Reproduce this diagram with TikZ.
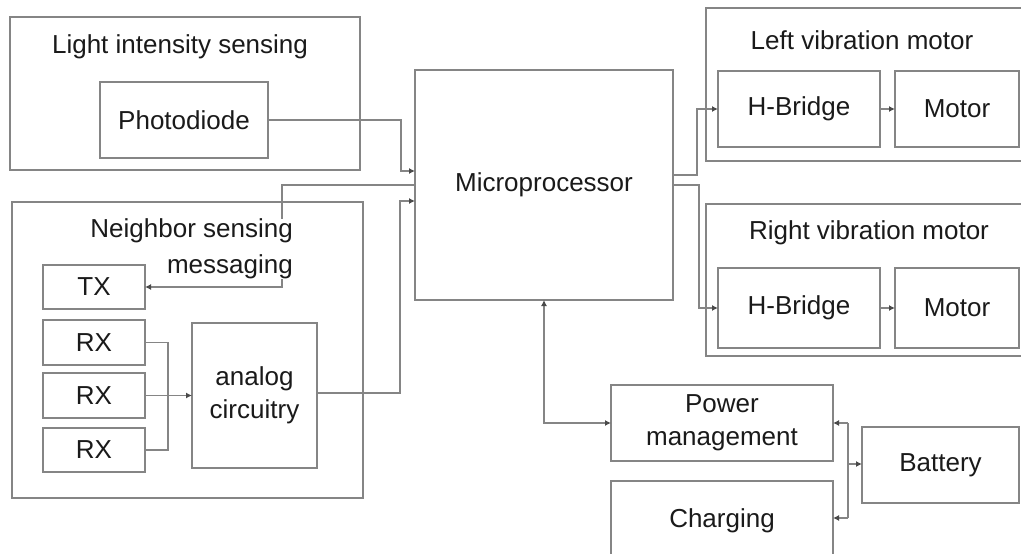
\documentclass[tikz,border=0pt]{standalone}
\usepackage{fontspec}
\setmainfont{Liberation Sans}
\usetikzlibrary{arrows.meta}
\definecolor{edge}{HTML}{858585}
\definecolor{tipc}{HTML}{4A4A4A}
\definecolor{ink}{HTML}{1A1A1A}

% box by corners: name, x1, y1, x2, y2, text
\newcommand\cornerbox[6]{%
  \node[box, minimum width={#4-#2}, minimum height={#5-#3}] (#1)
    at ({(#2+#4)/2},{(#3+#5)/2}) {#6};}

\begin{document}
\begin{tikzpicture}[x=1pt,y=-1pt,
  box/.style={draw=edge, line width=1.4pt, fill=white, inner sep=0pt, outer sep=0pt,
    font=\fontsize{26}{33}\selectfont, text=ink, align=center},
  title/.style={font=\fontsize{26}{36}\selectfont, text=ink, align=center, inner sep=0pt},
  wire/.style={draw=edge, line width=1.4pt},
  arr/.style={wire, -{Latex[length=6pt, width=6pt, color=tipc]}},
  darr/.style={wire, {Latex[length=6pt, width=6pt, color=tipc]}-{Latex[length=6pt, width=6pt, color=tipc]}}]

\fill[white] (0,0) rectangle (1021,554);
\useasboundingbox (0,0) rectangle (1021,554);
\clip (0,0) rectangle (1021,554);

% group frames
\cornerbox{light}{10}{17}{360}{170}{}
\cornerbox{neigh}{12}{202}{363}{498}{}
\cornerbox{leftvib}{706}{8}{1026}{161}{}
\cornerbox{rightvib}{706}{204}{1026}{356}{}

% helper rows for bends
\coordinate (yA) at (0,171);
\coordinate (yB) at (0,185);
\coordinate (yC) at (0,201);
\coordinate (yD) at (0,175);
\coordinate (yE) at (0,423);
\coordinate (yF) at (0,518);
\coordinate (yG) at (0,393);
\coordinate (yH) at (0,464);
\coordinate (xP) at (544,0);

% microprocessor and the wire that runs under the neighbor title
\cornerbox{micro}{415}{70}{673}{300}{Microprocessor}
\coordinate (txbend) at (282,185);
\draw[wire] (micro.west |- yB) -- (txbend) -- ++(0,103);

% group titles
\node[title] (lighttitle) at (180,47) {Light intensity sensing};
\node[title, fill=white, align=right, anchor=east] (neightitle) at (293,249) {Neighbor sensing\\messaging};
\node[title] (lefttitle) at (862,40) {Left vibration motor};
\node[title] (righttitle) at (869,233) {Right vibration motor};

% functional blocks
\cornerbox{photo}{100}{82}{268}{158}{Photodiode}
\cornerbox{tx}{43}{265}{145}{309}{TX}
\cornerbox{rxa}{43}{320}{145}{365}{RX}
\cornerbox{rxb}{43}{373}{145}{418}{RX}
\cornerbox{rxc}{43}{428}{145}{472}{RX}
\cornerbox{analog}{192}{323}{317}{468}{analog\\circuitry}
\cornerbox{hba}{718}{71}{880}{147}{H-Bridge}
\cornerbox{mota}{895}{71}{1019}{147}{Motor}
\cornerbox{hbb}{718}{268}{880}{348}{H-Bridge}
\cornerbox{motb}{895}{268}{1019}{348}{Motor}
\cornerbox{power}{611}{385}{833}{461}{Power\\management}
\cornerbox{charge}{611}{481}{833}{560}{Charging}
\cornerbox{batt}{862}{427}{1019}{503}{Battery}

% sensing inputs
\draw[arr] (photo.east) -- ++(133,0) |- (micro.west |- yA);
\draw[arr] (txbend |- tx.east) -- (tx.east);
\draw[arr] (analog.east |- yG) -- ++(83,0) |- (micro.west |- yC);

% receiver bus
\draw[wire] (rxa.east) -- ++(23,0) |- (rxc.east);
\draw[arr] (rxb.east) -- (analog.west |- rxb.east);

% motor drivers
\draw[arr] (micro.east |- yD) -- ++(24,0) |- (hba.west);
\draw[arr] (micro.east |- yB) -- ++(26,0) |- (hbb.west);
\draw[arr] (hba.east) -- (mota.west);
\draw[arr] (hbb.east) -- (motb.west);

% power path
\coordinate (hub) at (848,464);
\draw[darr] (micro.south -| xP) |- (power.west |- yE);
\draw[wire] (hub |- yE) -- (hub |- yF);
\draw[arr] (hub) -- (batt.west |- yH);
\draw[arr] (hub |- yE) -- (power.east |- yE);
\draw[arr] (hub |- yF) -- (charge.east |- yF);
\end{tikzpicture}
\end{document}
